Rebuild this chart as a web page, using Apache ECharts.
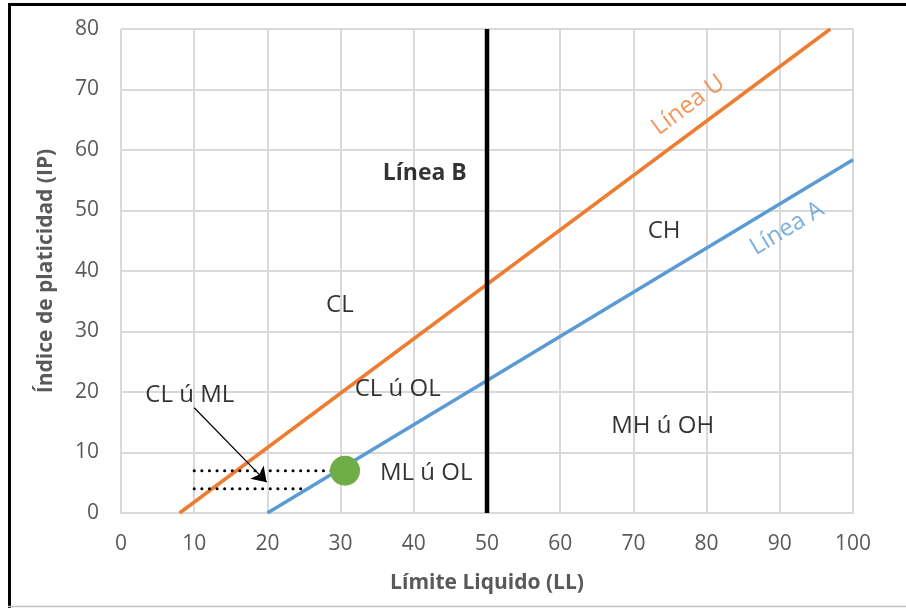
<!DOCTYPE html>
<html>
<head>
<meta charset="utf-8">
<script src="https://cdn.jsdelivr.net/npm/echarts@6/dist/echarts.min.js"></script>
<style>
  html, body { margin: 0; padding: 0; background: #fff; }
  #chart { width: 906px; height: 608px; }
</style>
</head>
<body>
<div id="chart"></div>
<script>
// Casagrande plasticity chart: liquid limit (LL) vs plasticity index (IP)
const xTicks = [0, 10, 20, 30, 40, 50, 60, 70, 80, 90, 100];
const yTicks = [0, 10, 20, 30, 40, 50, 60, 70, 80];

// Classification lines (LL, IP) end points
const lineU = [[8, 0], [96.9, 80]];
const lineA = [[20, 0], [100, 58.4]];
const lineB = [[50, 0], [50, 80]];

// Sample point and its reading guides
const samplePoint = [[30.6, 7]];
const guideHigh = [[10, 7], [29, 7]];
const guideLow = [[10, 4], [24.8, 4]];
const arrowPath = [[10, 17.4], [19.9, 5.1]];

// Zone names and line names
const zoneLabels = ['CL ú ML', 'CL ú OL', 'ML ú OL', 'MH ú OH', 'CH', 'CL'];
const zoneAnchors = [[9.4, 19.5], [37.8, 20.5], [41.7, 6.6], [74.0, 14.4], [74.2, 46.6], [29.9, 34.4]];
const lineBLabel = { text: 'Línea B', at: [41.5, 56.2] };
const lineULabel = { text: 'Línea U', at: [77.5, 67.4] };
const lineALabel = { text: 'Línea A', at: [91.0, 47.0] };

const FONT = '"Open Sans", "Liberation Sans", sans-serif';
const GRID = { left: 121, right: 53, top: 29, bottom: 95 };

const chart = echarts.init(document.getElementById('chart'));

// pixel slope of a line in degrees, used for rotated line names
function slopeDeg(seg) {
  const w = 906 - GRID.left - GRID.right, h = 608 - GRID.top - GRID.bottom;
  const dx = (seg[1][0] - seg[0][0]) / 100 * w;
  const dy = (seg[1][1] - seg[0][1]) / 80 * h;
  return Math.atan2(dy, dx) * 180 / Math.PI;
}

function textPoint(item, color, bold, size, rotate) {
  return {
    value: item.at,
    label: {
      show: true, position: 'inside', formatter: item.text,
      color: color, fontSize: size, fontFamily: FONT,
      fontWeight: bold ? 'bold' : 'normal', rotate: rotate || 0
    }
  };
}

chart.setOption({
  animation: false,
  backgroundColor: '#fff',
  grid: GRID,
  xAxis: {
    type: 'value', min: 0, max: 100, interval: 10,
    name: 'Límite Liquido (LL)', nameLocation: 'middle', nameGap: 60,
    nameTextStyle: { color: '#595959', fontSize: 21, fontWeight: 'bold', fontFamily: FONT },
    axisLine: { show: true, lineStyle: { color: '#d9d9d9', width: 2 } },
    axisTick: { show: false },
    axisLabel: {
      color: '#595959', fontSize: 21, fontFamily: FONT, margin: 21,
      formatter: v => xTicks.includes(v) ? String(v) : ''
    },
    splitLine: { show: true, lineStyle: { color: '#d9d9d9', width: 2 } }
  },
  yAxis: {
    type: 'value', min: 0, max: 80, interval: 10,
    name: 'Índice de platicidad (IP)', nameLocation: 'middle', nameGap: 64,
    nameTextStyle: { color: '#595959', fontSize: 21, fontWeight: 'bold', fontFamily: FONT },
    axisLine: { show: false },
    axisTick: { show: false },
    axisLabel: {
      color: '#595959', fontSize: 21, fontFamily: FONT, margin: 22,
      formatter: v => yTicks.includes(v) ? String(v) : ''
    },
    splitLine: { show: true, lineStyle: { color: '#d9d9d9', width: 2 } }
  },
  series: [
    {
      name: 'Línea U', type: 'line', data: lineU, showSymbol: false, z: 3,
      lineStyle: { color: '#ED7D31', width: 3.5 }
    },
    {
      name: 'Línea A', type: 'line', data: lineA, showSymbol: false, z: 3,
      lineStyle: { color: '#5B9BD5', width: 3.5 }
    },
    {
      name: 'Línea B', type: 'line', data: lineB, showSymbol: false, z: 3,
      lineStyle: { color: '#000', width: 4.5 }
    },
    {
      type: 'line', data: guideHigh, showSymbol: false, z: 4,
      lineStyle: { color: '#000', width: 3, type: [0.1, 7.5], cap: 'round' }
    },
    {
      type: 'line', data: guideLow, showSymbol: false, z: 4,
      lineStyle: { color: '#000', width: 3, type: [0.1, 7.5], cap: 'round' }
    },
    {
      type: 'lines', coordinateSystem: 'cartesian2d', z: 5,
      symbol: ['none', 'arrow'], symbolSize: [10, 14],
      lineStyle: { color: '#000', width: 1.2, opacity: 1 },
      data: [{ coords: arrowPath }]
    },
    {
      type: 'scatter', data: samplePoint, symbolSize: 30, z: 6,
      itemStyle: { color: '#70AD47', opacity: 1 }
    },
    {
      type: 'scatter', symbolSize: 0, z: 7, silent: true,
      data: zoneLabels.map((t, i) => textPoint({ text: t, at: zoneAnchors[i] }, '#000', false, 24))
        .concat([
          textPoint(lineBLabel, '#000', true, 23),
          textPoint(lineULabel, '#ED7D31', false, 24, slopeDeg(lineU)),
          textPoint(lineALabel, '#5B9BD5', false, 24, slopeDeg(lineA))
        ])
    }
  ],
  graphic: [
    { type: 'line', shape: { x1: 8, y1: 4.5, x2: 906, y2: 4.5 }, style: { stroke: '#000', lineWidth: 3 } },
    { type: 'line', shape: { x1: 9.5, y1: 3, x2: 9.5, y2: 608 }, style: { stroke: '#000', lineWidth: 3 } },
    { type: 'line', shape: { x1: 8, y1: 606.5, x2: 906, y2: 606.5 }, style: { stroke: '#bfbfbf', lineWidth: 1.5 } }
  ]
});
</script>
</body>
</html>
